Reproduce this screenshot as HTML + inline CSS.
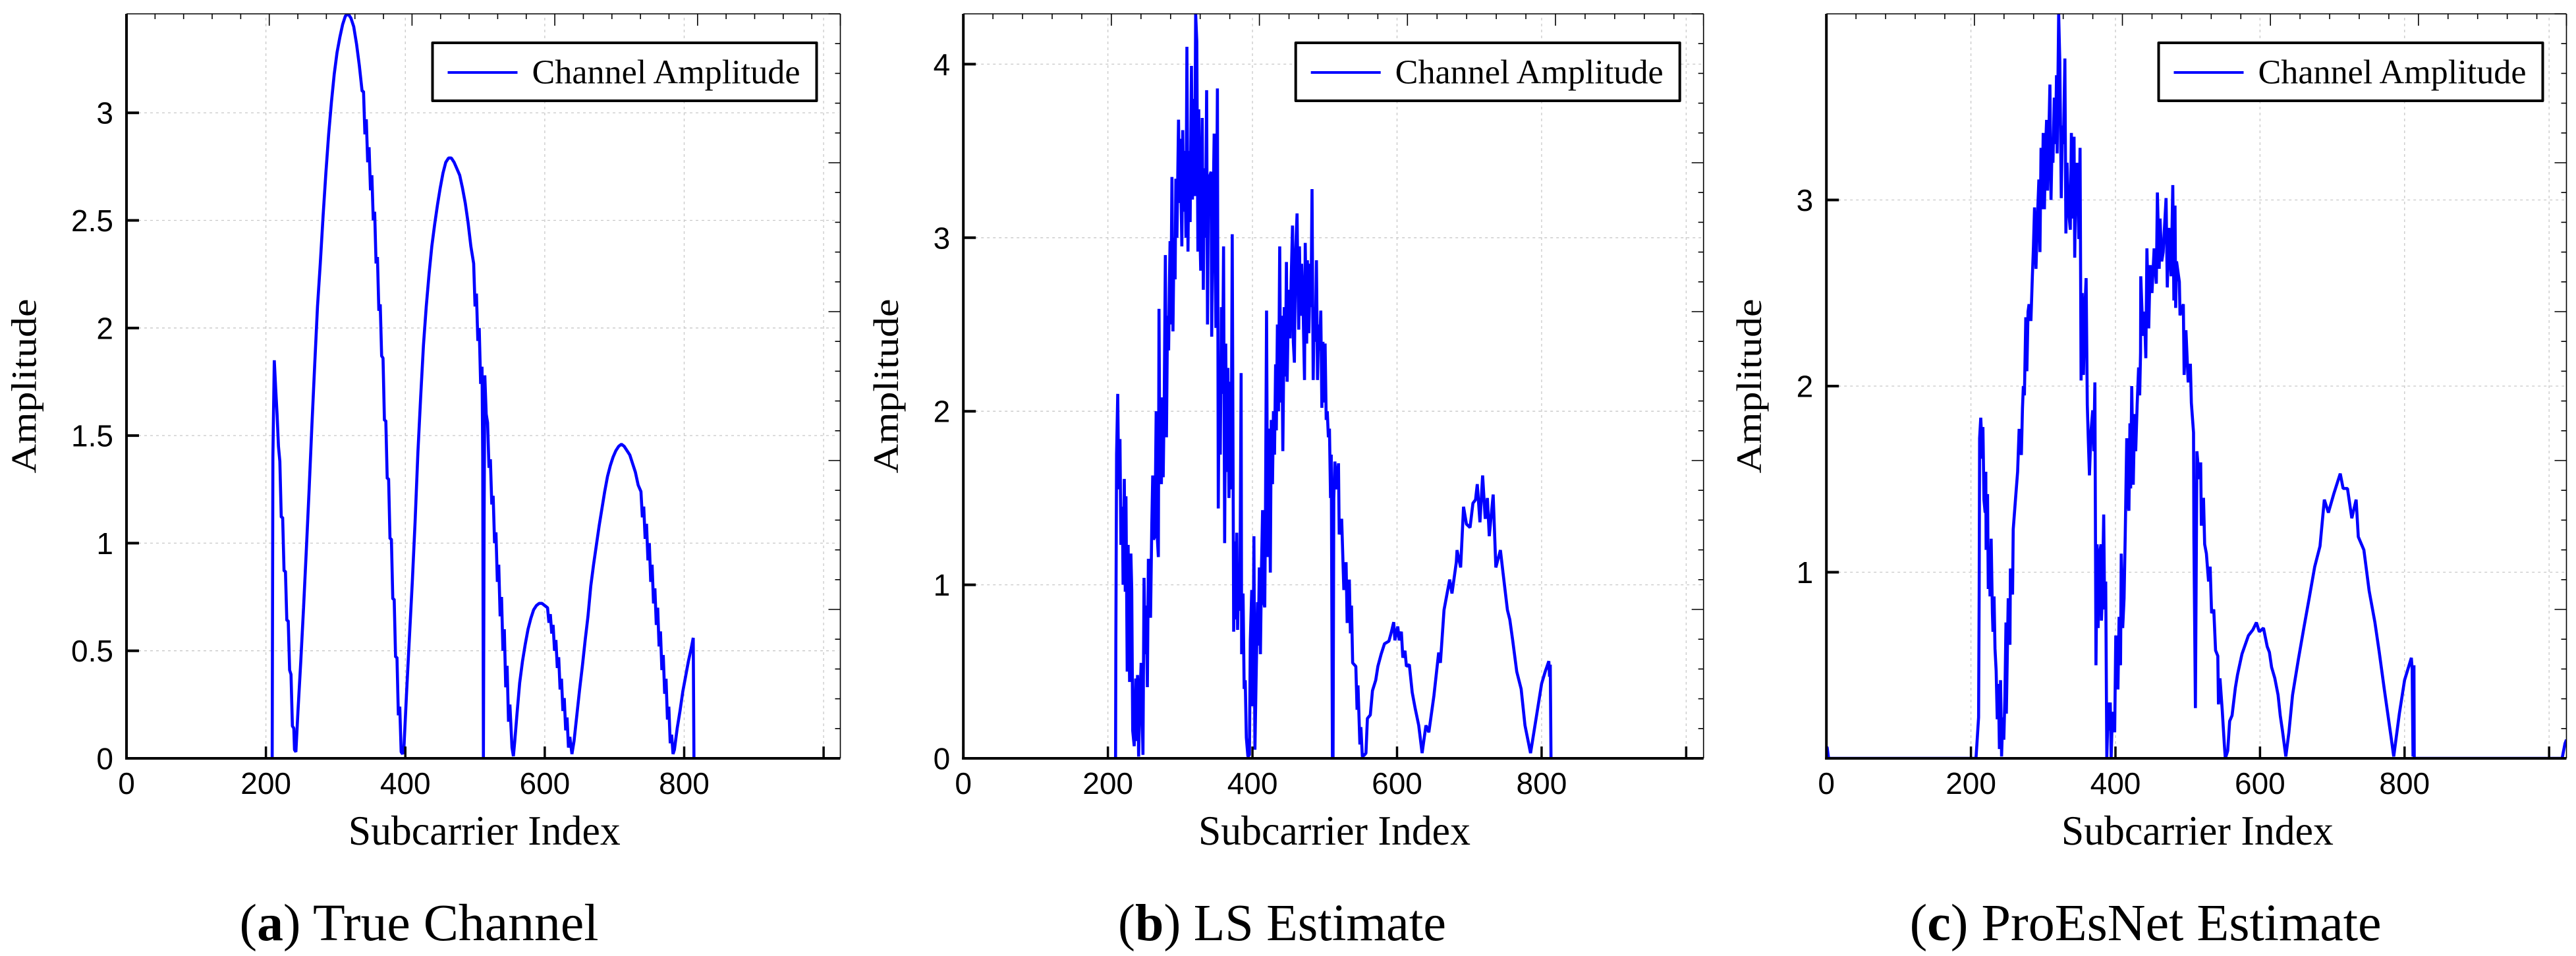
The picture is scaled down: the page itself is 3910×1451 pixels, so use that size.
<!DOCTYPE html>
<html lang="en">
<head>
<meta charset="utf-8">
<title>Channel Amplitude Comparison</title>
<style>
html,body{margin:0;padding:0;background:#fff;}
svg{display:block;}
.tick{font-family:"Liberation Sans",sans-serif;font-size:46px;fill:#000;}
.axis-title{font-family:"Liberation Serif",serif;font-size:64px;fill:#000;}
.legend-text{font-family:"Liberation Serif",serif;font-size:51.5px;fill:#000;}
.caption{font-family:"Liberation Serif",serif;font-size:79px;fill:#000;}
</style>
</head>
<body>
<svg id="figure" xmlns="http://www.w3.org/2000/svg" width="3910" height="1451" viewBox="0 0 3910 1451">
<rect x="0" y="0" width="3910" height="1451" fill="#fff"></rect>
</svg>
<script>
var xTickValues = [0, 200, 400, 600, 800];
var xGridValues = [200, 400, 600, 800, 1000];
var xTickMarks = [0, 200, 400, 600, 800, 1000];
var yTicksTrue = [0, 0.5, 1, 1.5, 2, 2.5, 3];
var yTicksLs = [0, 1, 2, 3, 4];
var yTicksNet = [1, 2, 3];
var yMarksNet = [0, 1, 2, 3];
var legendLabel = "Channel Amplitude";

var trueX = [209,210,212,214,216,218,220,222,224,226,228,230,232,234,236,238,240,241,243,
246,250,254,258,262,266,270,274,278,282,286,290,294,298,302,306,310,314,318,322,326,330,334,338,
340,342,344,346,348,350,352,354,356,358,360,362,364,366,368,370,372,374,376,378,380,382,384,386,388,390,392,394,
396,398,402,406,410,414,418,422,426,430,434,438,442,446,450,454,458,462,466,470,474,478,482,486,490,494,
498,500,502,504,506,508,510,511,512,513,514,516,
518,520,522,524,526,528,530,532,534,536,538,540,542,544,546,548,550,553,
555,557,560,564,568,572,576,580,584,588,592,596,600,
604,606,608,610,612,614,616,618,620,622,624,626,628,630,632,634,636,639,
642,646,650,654,658,662,666,670,674,678,682,686,690,694,698,702,706,710,714,718,722,726,730,734,
738,740,742,744,746,748,750,752,754,756,758,760,762,764,766,768,770,772,774,776,778,780,782,784,
786,790,794,798,802,806,810,813,814];
var trueY = [0,1.4,1.85,1.72,1.6,1.45,1.38,1.12,1.12,0.87,0.87,0.64,0.64,0.41,0.39,0.15,0.14,0.04,0.03,
0.22,0.45,0.7,0.97,1.25,1.55,1.83,2.1,2.3,2.52,2.72,2.9,3.05,3.18,3.28,3.35,3.41,3.45,3.46,3.44,3.4,3.32,3.22,3.1,
3.1,2.9,2.97,2.77,2.84,2.64,2.71,2.5,2.54,2.3,2.33,2.08,2.11,1.87,1.86,1.57,1.57,1.3,1.3,1.02,1.02,0.74,0.74,0.47,0.47,0.2,0.24,0.03,
0.02,0.05,0.32,0.57,0.82,1.1,1.42,1.68,1.92,2.1,2.25,2.38,2.48,2.57,2.65,2.72,2.77,2.79,2.79,2.77,2.74,2.71,2.65,2.58,2.49,2.38,
2.3,2.1,2.16,1.94,2.0,1.74,1.82,1.4,0,1.1,1.78,1.6,
1.56,1.35,1.39,1.18,1.22,1.0,1.05,0.82,0.9,0.66,0.75,0.5,0.6,0.33,0.43,0.17,0.25,0.05,
0.01,0.08,0.2,0.35,0.45,0.53,0.6,0.65,0.69,0.71,0.72,0.72,0.71,
0.7,0.63,0.67,0.58,0.62,0.5,0.55,0.42,0.47,0.32,0.37,0.22,0.28,0.13,0.19,0.05,0.1,0.02,
0.08,0.2,0.32,0.43,0.55,0.66,0.8,0.9,0.99,1.08,1.16,1.24,1.31,1.36,1.4,1.43,1.45,1.46,1.45,1.43,1.41,1.37,1.33,1.27,
1.24,1.12,1.17,1.02,1.09,0.92,1.0,0.82,0.9,0.72,0.79,0.62,0.7,0.52,0.59,0.41,0.48,0.3,0.37,0.18,0.24,0.07,0.11,0.02,
0.04,0.14,0.22,0.31,0.38,0.45,0.51,0.56,0];

var lsX = [209,210.6,211,212,213.6,215,216.7,218,220,221,222.7,224,225,226.7,228,230,231.8,233,234.3,236.4,238.5,240,241,242.5,244,246,248.5,250,251.6,253,254.6,256,259,260.7,262,263,265,266.8,268,269.8,270.7,272,273,274,275.5,276.5,278,279.5,281,282.5,284,285,286,287,288.6,290,291.5,293,294,295.5,297.7,299,300,302.3,303.5,305,306.5,308,309.3,310.8,312,313.8,315.6,317,318.5,320,321.4,323,324.5,325.7,327,328.4,330.5,332,333.5,335,336.6,337.8,339,340.5,342.7,343.6,345,347,349.4,350.5,351.5,352.7,354,355.5,357,358.5,360,361.5,363,364.5,366,367.5,369,370.5,372,374,375.5,377,378.3,379.4,381,382.5,384.3,385,387,388.5,390,391.5,393.7,395.8,397,399,400.5,402,403.4,405,407,408,409.5,411,412.5,414,415.5,417,418,419.5,421,422.6,424.7,426,427.7,429,430.5,432,433,434.5,436,437.7,439,440.5,442,444,445.5,447,448,450,452,453.5,455.4,456.5,458,459.5,461.7,463,464,465,466.5,468,470,472,473,475,476,478,480,481,482.4,484,485.5,487,488.5,490,491.5,493,494.5,496,497.5,499,500.5,502,503.5,505,506.5,508,509,510.6,511.5,512.5,514,516.7,519,520,523.4,526.4,529.5,531,534,535.5,537,538.6,543,544.7,546,548.6,550,552,555,557,559,563,566,570.5,573.5,578,582.6,588.7,591.7,595.4,597,601,603,606,608,611,613,617,621,625,630,634.7,637,640,644,651,657.6,660,665,672.8,676,682,683,688,692,696,701,705,708.6,711,714.7,718.4,722,725,727.6,733,736.7,743,746.6,752.7,756,760,765.6,771.7,777,784.7,792,800,805,810,811,812,813];
var lsY = [0,0,0.67,1.75,2.1,1.55,1.84,1.23,1.45,1.0,1.61,0.96,1.51,0.5,1.23,0.44,1.18,0.97,0.16,0.07,0.46,0.1,0.48,0.01,0.29,0.55,0.02,1.04,0.6,0.88,0.41,1.15,0.81,1.34,1.63,1.26,1.28,2.0,1.3,1.16,2.59,1.6,1.81,1.58,2.08,1.62,2.1,2.9,1.85,2.55,2.35,2.7,2.98,2.5,3.35,2.46,3.0,2.76,3.34,3.0,3.68,3.2,3.57,2.95,3.62,3.15,3.5,3.0,4.1,2.92,3.5,3.09,3.99,3.22,3.8,3.24,4.29,4.13,2.92,3.74,3.1,2.81,3.69,2.7,3.4,3.0,3.85,2.5,3.3,3.35,3.38,2.43,3.0,3.6,2.48,3.2,3.86,1.44,2.3,1.75,2.6,2.1,2.95,1.24,2.39,1.65,2.25,1.5,2.17,1.55,3.02,0.73,1.25,0.8,1.3,0.74,1.1,0.85,2.22,0.6,0.95,0.4,0.45,0.12,0.01,0.02,0.68,0.97,0.3,1.28,0.05,0.45,0.9,0.65,1.1,0.6,1.1,1.43,0.9,0.87,1.42,2.58,1.16,1.9,1.07,1.95,1.58,2.0,1.75,2.27,1.89,2.5,2.0,2.95,2.05,2.55,1.77,2.6,2.2,2.86,2.17,2.7,2.42,2.75,3.07,2.4,2.28,2.9,3.14,2.7,2.47,2.95,2.55,2.85,2.6,2.18,2.97,2.39,2.87,2.45,2.85,2.6,3.28,2.18,2.6,2.4,2.87,2.18,2.5,2.35,2.58,2.02,2.4,2.05,2.39,1.95,2.0,1.85,1.9,1.5,1.75,0,0,1.5,1.71,1.55,1.7,1.29,1.38,0.97,1.13,0.78,1.03,0.72,0.88,0.55,0.53,0.28,0.42,0.08,0.18,0.01,0.02,0.03,0.23,0.25,0.39,0.45,0.53,0.6,0.66,0.675,0.72,0.785,0.68,0.76,0.68,0.73,0.58,0.62,0.53,0.54,0.38,0.29,0.19,0.03,0.1,0.19,0.15,0.36,0.61,0.55,0.855,1.03,0.95,1.13,1.2,1.1,1.45,1.35,1.33,1.47,1.49,1.58,1.36,1.63,1.38,1.5,1.28,1.52,1.1,1.2,1.07,0.855,0.8,0.68,0.5,0.4,0.19,0.03,0.22,0.43,0.5,0.56,0.47,0.54,0];

var netX = [0,1,3,207,210.6,211.4,212,213.6,216,216.6,218,219.7,220.6,221,223,224,225.7,226.4,228,229.7,230.5,232,233.3,234.9,236.4,238,239.4,241,242.4,244,245.5,247,248.5,249,251.6,254,254.6,257.6,258.5,262,264.6,266.7,269.8,271.3,272.5,274,275.9,277.4,279,280.4,283,285,286.5,288,290,292,294,295.5,297,298.5,300,301.7,303,304.7,306,307.5,309.3,310.8,312,313.5,315.3,317,318.4,319.3,321.4,323,325,326.5,328,330,331.4,333,335,337.5,339,341,342.7,343.6,345,347,349.3,351,352.4,354,355.7,357.5,359.4,361,362.5,364,366,368.5,370,371.5,373,374.6,376,378,380,380.6,382,383.7,385,386.5,388,390,391.5,392.8,394,395.8,397.5,398.9,400.4,403.4,405,407,408,410,411.9,413.5,415.6,417,418.6,420,421,422.5,424.6,426.5,428,430,432,433.5,434.7,435,438,440,442,443.5,446,448,450.5,453.5,456.5,458,460.5,461.7,464,466,470,471.7,473.9,477,479.3,480.8,482.4,483.3,484.5,488.4,489.3,493.9,495,497.5,500.6,503.6,505,508,508.5,510.6,512.7,515.8,517.9,518.8,521.8,523.4,525.8,528.8,531,533,536,538.5,541.6,542.5,544.6,547.7,550.7,552,555.3,558,561.3,565.9,568.9,575,579.5,584,590,595,599,604.8,610,613,616,620.5,625,628,631,635.7,640,645,653,660.6,668,675.7,683,689,694.6,702,711,715,721,727,733,736,743.7,751,759,765,772,781.5,785,792.8,800,809.4,810.5,811.7,813,813.4,1018,1022,1024];
var netY = [0.06,0.06,0,0,0.22,0.9,1.72,1.83,1.61,1.78,1.39,1.32,1.54,1.12,1.42,0.91,1.1,0.87,1.18,0.78,0.68,0.87,0.59,0.47,0.21,0.4,0.05,0.42,0.01,0.22,0.1,0.33,0.73,0.24,0.86,0.61,1.02,0.88,1.23,1.41,1.54,1.77,1.63,1.88,2.0,1.95,2.37,2.08,2.4,2.44,2.35,2.59,2.75,2.96,2.63,2.9,3.11,2.72,3.28,2.95,3.36,2.95,3.25,3.43,3.05,3.3,3.62,3.0,3.25,3.2,3.55,3.3,3.67,3.25,4.0,3.74,3.01,3.4,3.3,3.76,2.82,3.2,2.95,2.84,3.36,2.9,3.34,2.69,3.1,3.2,2.79,3.28,2.03,2.5,2.06,2.4,2.58,1.9,1.7,1.52,1.75,1.87,1.65,2.02,0.5,1.15,0.7,1.1,1.15,0.74,0.9,1.31,0.8,0.95,0,0.3,0.15,0.3,0,0.25,0.2,0.14,0.66,0.37,0.76,0.5,1.1,0.7,0.86,1.2,1.72,1.4,1.33,1.8,1.45,2.0,1.47,1.85,1.65,1.9,2.1,1.95,2.18,2.59,2.27,2.4,2.15,2.74,2.31,2.65,2.5,2.74,2.55,3.04,2.63,2.9,2.67,2.72,3.01,2.53,2.85,2.59,3.08,2.46,2.97,2.42,2.67,2.56,2.38,2.44,2.06,2.3,2.02,2.12,1.91,1.75,1.19,0.27,1.65,1.5,1.59,1.25,1.4,1.15,1.1,0.95,1.03,0.78,0.8,0.58,0.55,0.29,0.43,0.26,0.07,0,0.04,0.2,0.23,0.38,0.45,0.56,0.61,0.66,0.69,0.73,0.68,0.7,0.6,0.57,0.49,0.43,0.34,0.23,0.15,0.01,0.14,0.34,0.53,0.7,0.86,1.03,1.14,1.39,1.32,1.42,1.53,1.45,1.45,1.29,1.39,1.19,1.12,0.9,0.73,0.57,0.37,0.11,0.01,0.24,0.42,0.54,0.48,0.01,0.5,0,0,0.08,0.1];

var svgNS = "http://www.w3.org/2000/svg";
var figure = document.getElementById("figure");

function shape(parent, tag, attrs, text) {
  var el = document.createElementNS(svgNS, tag);
  for (var k in attrs) { el.setAttribute(k, attrs[k]); }
  if (text !== undefined) { el.textContent = text; }
  parent.appendChild(el);
  return el;
}

function drawPanel(p) {
  var left = p.left, right = p.right, top = 21, bottom = 1151;
  var sx = function (v) { return left + (v / 1024) * (right - left); };
  var sy = function (v) { return bottom - (v / p.yMax) * (bottom - top); };

  var g = shape(figure, "g", {});
  
  

  p.yMarks.forEach(function (v) {
    if (v === 0) { return; }
    var line = shape(g, "line", {x1: left, x2: right - 3, y1: sy(v), y2: sy(v), stroke: "#c8c8c8", "stroke-width": 1.3, "stroke-dasharray": "4 5"});
    
    
  });
  xGridValues.forEach(function (v) {
    var line = shape(g, "line", {x1: sx(v), x2: sx(v), y1: 27, y2: bottom, stroke: "#c8c8c8", "stroke-width": 1.3, "stroke-dasharray": "4 5"});
    
    
  });

  var clip = shape(g, "clipPath", {id: "clip-" + p.key});
  shape(clip, "rect", {x: left, y: top, width: right - left, height: bottom - top});

  var d = "";
  for (var i = 0; i < p.xs.length; i++) {
    d += (i ? "L" : "M") + sx(p.xs[i]).toFixed(2) + " " + sy(p.ys[i]).toFixed(2);
  }
  var series = shape(g, "path", {d: d, fill: "none", stroke: "#0000ff", "stroke-width": 4.6, "stroke-linejoin": "bevel", "clip-path": "url(#clip-" + p.key + ")"});
  
  

  var k, pos, len, mark;
  for (k = 0; k <= 25; k++) {
    pos = left + (right - left) * k / 25;
    len = k % 5 === 0 ? 18 : 8;
    mark = shape(g, "line", {x1: pos, x2: pos, y1: top, y2: top + len, stroke: "#000", "stroke-width": 1.6});
    
    
    pos = bottom - (bottom - top) * k / 25;
    mark = shape(g, "line", {x1: right - len, x2: right, y1: pos, y2: pos, stroke: "#000", "stroke-width": 1.6});
    
    
  }

  xTickMarks.forEach(function (v) {
    var t = shape(g, "line", {x1: sx(v), x2: sx(v), y1: bottom - 18, y2: bottom, stroke: "#000", "stroke-width": 3.5});
    
    
  });
  p.yMarks.forEach(function (v) {
    var t = shape(g, "line", {x1: left, x2: left + 19, y1: sy(v), y2: sy(v), stroke: "#000", "stroke-width": 4});
    
    
  });

  var topAxis = shape(g, "line", {x1: left, x2: right, y1: top, y2: top, stroke: "#000", "stroke-width": 1.6});
  
  
  var rightAxis = shape(g, "line", {x1: right, x2: right, y1: top, y2: bottom, stroke: "#000", "stroke-width": 1.6});
  
  
  var leftAxis = shape(g, "line", {x1: left, x2: left, y1: top, y2: bottom + 2, stroke: "#000", "stroke-width": 4});
  
  
  var bottomAxis = shape(g, "line", {x1: left - 2, x2: right, y1: bottom, y2: bottom, stroke: "#000", "stroke-width": 4});
  
  

  xTickValues.forEach(function (v) {
    var t = shape(g, "text", {"class": "tick", x: sx(v), y: 1205, "text-anchor": "middle"}, String(v));
    
    
  });
  p.yTicks.forEach(function (v) {
    var t = shape(g, "text", {"class": "tick", x: left - 20, y: sy(v) + 16.5, "text-anchor": "end"}, String(v));
    
    
  });

  var xTitle = shape(g, "text", {"class": "axis-title", x: (left + right) / 2 + 1.5, y: 1282, "text-anchor": "middle", textLength: 413, lengthAdjust: "spacingAndGlyphs"}, "Subcarrier Index");
  
  
  var yTitle = shape(g, "text", {"class": "axis-title", "text-anchor": "middle", transform: "translate(" + p.yTitleX + ",586) rotate(-90) scale(1,0.85)", textLength: 265, lengthAdjust: "spacingAndGlyphs"}, "Amplitude");
  
  

  var legend = shape(g, "g", {});
  
  
  var box = shape(legend, "rect", {x: right - 619, y: 65, width: 583, height: 88, fill: "#fff", stroke: "#000", "stroke-width": 4, "stroke-linejoin": "round"});
  
  
  var swatch = shape(legend, "line", {x1: right - 596, x2: right - 490, y1: 110, y2: 110, stroke: "#0000ff", "stroke-width": 4});
  
  
  var legendText = shape(legend, "text", {"class": "legend-text", x: right - 468, y: 126.7, textLength: 407, lengthAdjust: "spacingAndGlyphs"}, legendLabel);
  
  

  var cap = shape(g, "text", {"class": "caption", x: p.capX, y: 1427, textLength: p.capW, lengthAdjust: "spacingAndGlyphs"});
  
  
  shape(cap, "tspan", {}, "(");
  shape(cap, "tspan", {"font-weight": "bold"}, p.capLetter);
  shape(cap, "tspan", {}, ") " + p.capText);
}

drawPanel({key: "true-channel", left: 192, right: 1275.5, yMax: 3.46, xs: trueX, ys: trueY, yTicks: yTicksTrue, yMarks: yTicksTrue, yTitleX: 54.5, capX: 363.5, capW: 545, capLetter: "a", capText: "True Channel"});
drawPanel({key: "ls-estimate", left: 1462.2, right: 2585.7, yMax: 4.29, xs: lsX, ys: lsY, yTicks: yTicksLs, yMarks: yTicksLs, yTitleX: 1363, capX: 1697, capW: 498, capLetter: "b", capText: "LS Estimate"});
drawPanel({key: "proesnet-estimate", left: 2772.2, right: 3895.5, yMax: 4.0, xs: netX, ys: netY, yTicks: yTicksNet, yMarks: yMarksNet, yTitleX: 2673, capX: 2898.6, capW: 716, capLetter: "c", capText: "ProEsNet Estimate"});
</script>
</body>
</html>
